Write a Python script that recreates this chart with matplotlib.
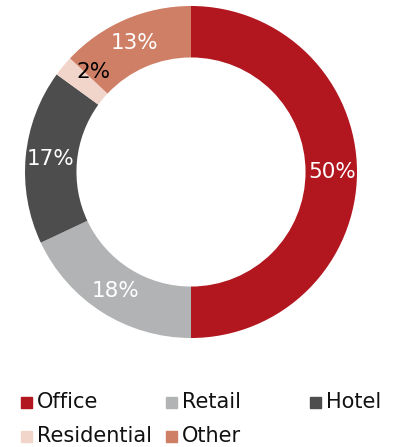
import matplotlib.pyplot as plt
from matplotlib.patches import Rectangle

categories = ['Office', 'Retail', 'Hotel', 'Residential', 'Other']
shares = [50, 18, 17, 2, 13]
colors = ['#B2161F', '#B1B3B4', '#4D4D4D', '#F2D5CA', '#CF7F66']
label_colors = ['white', 'white', 'white', 'black', 'white']

W, H = 401, 447
fig = plt.figure(figsize=(W / 100, H / 100), dpi=100)

# donut: centre (191, 172) px, radius 166 px
ax = fig.add_axes([25 / W, (H - 338) / H, 332 / W, 332 / H])
wedges, texts, autotexts = ax.pie(
    shares, colors=colors, startangle=90, counterclock=False,
    radius=1.0, autopct='%d%%', pctdistance=0.85,
    wedgeprops=dict(width=0.31, linewidth=0),
    textprops=dict(fontsize=15.5, family='DejaVu Sans'))
for t, c in zip(autotexts, label_colors):
    t.set_color(c)
# the tiny slice's label sits a bit up and to the right
autotexts[3].set_position((-0.59, 0.60))
ax.set_xlim(-1, 1)
ax.set_ylim(-1, 1)
ax.set_aspect('equal')
ax.axis('off')

# legend laid out by hand (uneven column gaps in the original)
legend_xy = [(21, 402), (166, 402), (310, 402), (21, 436), (166, 436)]
for (x, y), lab, col in zip(legend_xy, categories, colors):
    fig.patches.append(Rectangle((x / W, (H - y - 5.5) / H), 11 / W, 11 / H,
                                 transform=fig.transFigure, color=col))
    fig.text((x + 16) / W, (H - y) / H, lab, fontsize=15,
             va='center', ha='left', color='#111111')

fig.savefig('out.png', dpi=100)
